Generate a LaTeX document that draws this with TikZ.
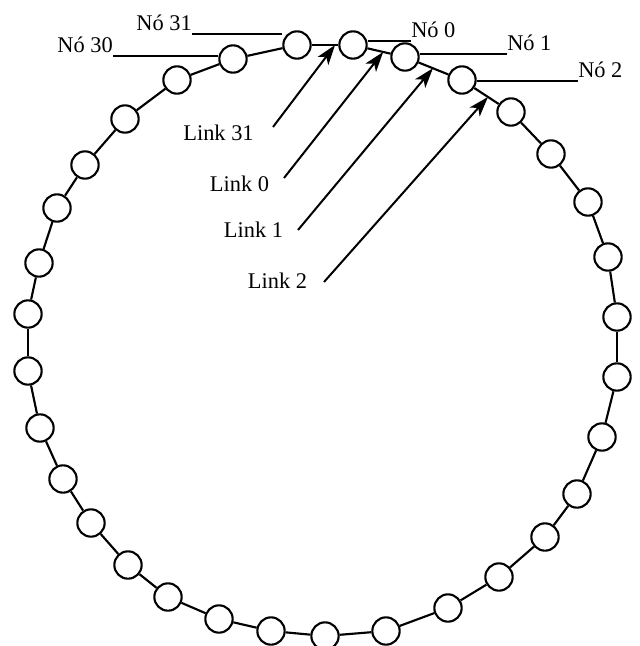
\documentclass[tikz,border=0pt]{standalone}
\usepackage{fontspec}
\setmainfont{Liberation Serif}
\usetikzlibrary{calc,arrows.meta}

\tikzset{
  station/.style={circle, draw, fill=white, line width=1.6pt, minimum size=20.5pt, inner sep=0pt},
  ring/.style={line width=1.6pt},
  leader/.style={line width=0.8pt},
  tag/.style={inner xsep=0pt, inner ysep=2.25pt, font=\fontsize{16.8}{19}\selectfont},
  linktag/.style={anchor=base, inner sep=0pt, font=\fontsize{16.8}{19}\selectfont},
  linkarrow/.style={line width=1.5pt, -{Stealth[length=15pt, width=10pt, inset=4pt]}}
}

\begin{document}
\begin{tikzpicture}[x=0.75pt, y=-0.75pt]
  \useasboundingbox (0,0) rectangle (639,646);
  \clip (0,0) rectangle (639,646);

  % the 32 stations of the ring, numbered clockwise from the top
  \foreach \i/\p in {
     0/{353,45},  1/{405,57},  2/{462,80},  3/{511,112},
     4/{551,154}, 5/{588,202}, 6/{608,257}, 7/{617,317},
     8/{617,377}, 9/{602,437}, 10/{577,494}, 11/{545,537},
    12/{499,577}, 13/{448,608}, 14/{386,631}, 15/{325,636},
    16/{271,631}, 17/{219,619}, 18/{168,597}, 19/{128,565},
    20/{91,523},  21/{63,479},  22/{40,428},  23/{28,371},
    24/{28,314},  25/{39,263},  26/{57,208},  27/{85,165},
    28/{125,119}, 29/{177,80},  30/{233,59},  31/{297,45}}
    \node[station] (n\i) at (\p) {};

  % links between neighbouring stations
  \foreach \i in {0,...,31}{
    \pgfmathtruncatemacro\j{mod(\i+1,32)}
    \draw[ring] (n\i) -- (n\j);
  }

  % station labels with leader lines
  \node[tag, anchor=south east] (l31) at (192,34) {Nó 31};
  \draw[leader] (l31.south east) -- (n31.west |- l31.south east);
  \node[tag, anchor=south east] (l30) at (113,56) {Nó 30};
  \draw[leader] (l30.south east) -- (n30.west |- l30.south east);
  \node[tag, anchor=south west] (l0) at (411,41) {Nó 0};
  \draw[leader] (n0.east |- l0.south west) -- (l0.south west);
  \node[tag, anchor=south west] (l1) at (507,54) {Nó 1};
  \draw[leader] (n1.east |- l1.south west) -- (l1.south west);
  \node[tag, anchor=south west] (l2) at (578,81) {Nó 2};
  \draw[leader] (n2.east |- l2.south west) -- (l2.south west);

  % link labels and arrows pointing at the links
  \coordinate (t31) at ($(n31)!0.68!(n0)$);
  \coordinate (t0)  at ($(n0)!0.58!(n1)$);
  \coordinate (t1)  at ($(n1)!0.49!(n2)$);
  \coordinate (t2)  at ($(n2)!0.53!(n3)$);

  \coordinate (a31) at (273,127);
  \coordinate (a0)  at (284,178);
  \coordinate (a1)  at (298,230);
  \coordinate (a2)  at (324,282);

  \node[linktag] (k31) at (218.5,140) {Link 31};
  \node[linktag] (k0)  at (239.5,191) {Link 0};
  \node[linktag] (k1)  at (253.5,237) {Link 1};
  \node[linktag] (k2)  at (277.5,288) {Link 2};

  \draw[linkarrow] (a31) -- (t31);
  \draw[linkarrow] (a0)  -- (t0);
  \draw[linkarrow] (a1)  -- (t1);
  \draw[linkarrow] (a2)  -- (t2);
\end{tikzpicture}
\end{document}
